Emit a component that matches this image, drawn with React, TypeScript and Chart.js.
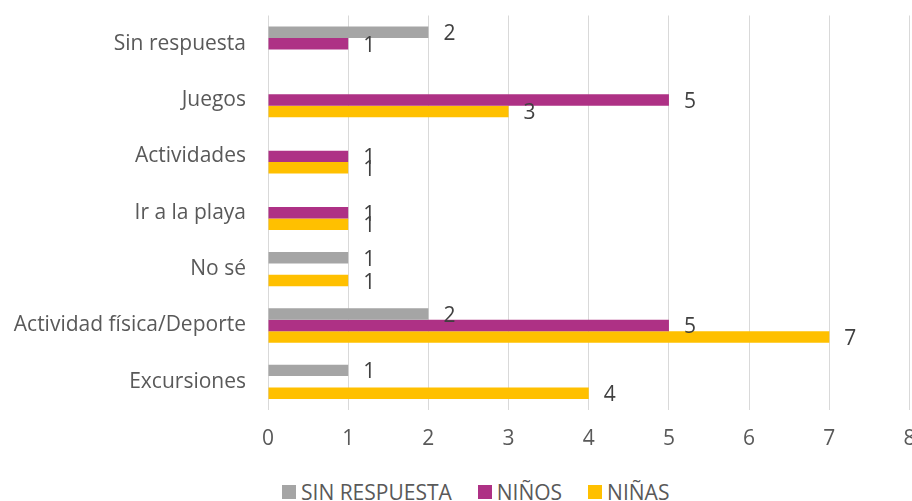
import React, { useEffect, useRef } from "react";
import { Chart, registerables } from "chart.js";

Chart.register(...registerables);

const categories = [
  "Sin respuesta",
  "Juegos",
  "Actividades",
  "Ir a la playa",
  "No sé",
  "Actividad física/Deporte",
  "Excursiones",
];
const sinRespuesta = [2, null, null, null, 1, 2, 1];
const ninos = [1, 5, 1, 1, null, 5, null];
const ninas = [null, 3, 1, 1, 1, 7, 4];
const seriesNames = ["SIN RESPUESTA", "NIÑOS", "NIÑAS"];
const seriesColors = ["#A5A5A5", "#AE3185", "#FFC000"];
const xMin = 0;
const xMax = 8;
const xStep = 1;

const FONT = "'Open Sans', sans-serif";
const FONT_SIZE = 21;
const AXIS_COLOR = "#595959";
const LABEL_COLOR = "#404040";

const valueLabels = {
  id: "valueLabels",
  afterDatasetsDraw(chart: any) {
    const ctx = chart.ctx;
    ctx.save();
    ctx.font = `${FONT_SIZE}px ${FONT}`;
    ctx.fillStyle = LABEL_COLOR;
    ctx.textAlign = "left";
    ctx.textBaseline = "middle";
    chart.data.datasets.forEach((ds: any, di: number) => {
      const meta = chart.getDatasetMeta(di);
      meta.data.forEach((el: any, i: number) => {
        const v = ds.data[i];
        if (v === null || v === undefined) return;
        ctx.fillText(String(v), el.x + 15, el.y + 2);
      });
    });
    ctx.restore();
  },
};

export default function App() {
  const ref = useRef<HTMLCanvasElement | null>(null);
  useEffect(() => {
    if (!ref.current) return;
    const chart = new Chart(ref.current, {
      type: "bar",
      data: {
        labels: categories,
        datasets: [
          { label: seriesNames[0], data: sinRespuesta, backgroundColor: seriesColors[0] },
          { label: seriesNames[1], data: ninos, backgroundColor: seriesColors[1] },
          { label: seriesNames[2], data: ninas, backgroundColor: seriesColors[2] },
        ],
      },
      options: {
        indexAxis: "y",
        responsive: false,
        animation: false,
        layout: { padding: { top: 15.5, left: 0, right: 2.5, bottom: 0 } },
        datasets: { bar: { barPercentage: 1, categoryPercentage: 0.61 } },
        plugins: { legend: { display: false }, tooltip: { enabled: false } },
        scales: {
          x: {
            min: xMin,
            max: xMax,
            ticks: {
              stepSize: xStep,
              color: AXIS_COLOR,
              font: { family: FONT, size: FONT_SIZE },
              padding: 16,
            },
            grid: { color: "#D9D9D9", lineWidth: 1, drawTicks: false },
            border: { display: false },
            afterFit(scale: any) {
              scale.height = 50;
              scale.paddingLeft = 0;
              scale.paddingRight = 0;
            },
          },
          y: {
            ticks: {
              color: AXIS_COLOR,
              font: { family: FONT, size: FONT_SIZE },
              padding: 22,
            },
            grid: { display: false, drawTicks: false },
            border: { display: false },
            afterFit(scale: any) {
              scale.width = 268;
              scale.paddingTop = 0;
              scale.paddingBottom = 0;
            },
          },
        },
      },
      plugins: [valueLabels],
    } as any);
    return () => chart.destroy();
  }, []);

  return (
    <div
      style={{
        position: "fixed",
        left: 0,
        top: 0,
        width: 912,
        height: 501,
        overflow: "hidden",
        background: "#fff",
      }}
    >
      <canvas ref={ref} width={912} height={460} style={{ display: "block" }} />
      <div
        style={{
          position: "absolute",
          left: 282,
          top: 479,
          height: 26,
          display: "flex",
          alignItems: "center",
          fontFamily: FONT,
          fontSize: FONT_SIZE,
          color: AXIS_COLOR,
          whiteSpace: "nowrap",
        }}
      >
        {seriesNames.map((n, i) => (
          <div key={n} style={{ display: "flex", alignItems: "center", marginRight: 26 }}>
            <span
              style={{
                display: "inline-block",
                width: 14,
                height: 14,
                background: seriesColors[i],
                marginRight: 5,
              }}
            />
            <span>{n}</span>
          </div>
        ))}
      </div>
    </div>
  );
}
